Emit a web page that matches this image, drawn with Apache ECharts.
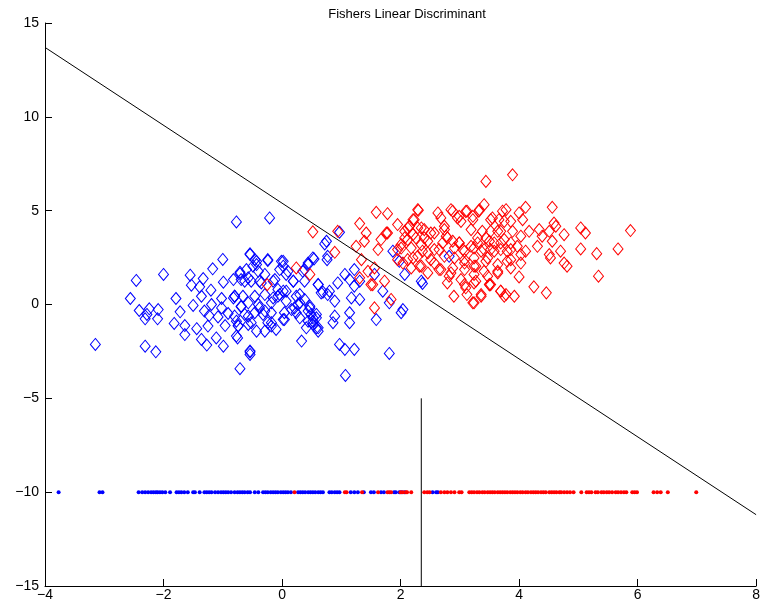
<!DOCTYPE html>
<html>
<head>
<meta charset="utf-8">
<title>Fishers Linear Discriminant</title>
<script src="https://cdn.jsdelivr.net/npm/echarts@6/dist/echarts.min.js"></script>
<style>
  html, body { margin: 0; padding: 0; background: #fff; }
  #chart { width: 763px; height: 612px; }
</style>
</head>
<body>
<div id="chart"></div>
<script>
// Class 1 samples (blue)
const blueX = [-0.77,-0.54,-1.0,-1.17,-2.0,-2.46,-1.55,-1.33,-1.53,-0.99,-0.71,-1.39,-1.2,-2.56,-1.79,-1.02,-1.36,-0.82,-1.19,-1.5,-2.09,-2.41,-2.24,-2.28,-2.31,-2.1,-1.72,-1.02,-0.69,-1.31,-1.23,-1.08,-0.91,-1.82,-1.64,-1.44,-1.25,-1.64,-0.96,-0.74,-0.57,-1.11,-1.36,-1.27,-0.99,-0.75,-3.15,-2.31,-2.13,-0.54,-0.71,
  -0.21,-0.24,-0.43,-0.49,0.02,-0.71,-0.6,-0.4,-0.29,-0.04,0.54,0.44,0.35,0.75,0.72,0.97,0.77,0.76,-0.82,-0.63,-0.52,-0.35,-0.12,0.07,0.19,0.38,0.61,0.69,0.77,0.94,1.06,1.22,1.31,1.14,-0.8,-0.66,-0.46,-0.29,-0.07,0.24,0.02,-0.69,-0.38,-0.18,0.07,0.3,0.47,0.58,0.52,0.44,0.89,1.17,1.31,1.81,2.01,1.87,1.22,-0.8,-0.57,-0.46,-0.32,-0.18,0.04,0.24,-0.24,-0.18,-0.43,-0.74,-0.77,0.02,0.21,0.3,0.41,0.58,0.52,0.61,0.33,0.89,0.86,1.14,1.14,0.97,1.06,1.22,1.81,-0.54,-0.54,1.07,
  1.98,2.07,2.35,2.37,2.82,1.56,1.7,1.59,2.04,
  -0.54,-0.46,-0.43,-0.24,-0.01,0.02,0.52,0.44,0.38,0.1,-0.57,-0.69,-0.38,-0.15,-0.07,-0.04,-0.15,0.07,0.19,0.3,0.38,0.61,0.66,0.8,-0.8,-0.57,-0.4,-0.29,-0.63,-0.77,-0.52,-0.18,0.04,0.16,0.27,0.47,0.49,0.58,0.52,0.61,0.44,-0.29,-0.1];
const blueY = [4.4,2.7,2.4,1.9,1.6,1.28,1.56,1.38,1.03,1.19,1.65,0.94,0.76,0.32,0.32,0.32,0.44,0.35,0,-0.05,-0.27,-0.32,-0.23,-0.53,-0.76,-0.76,-0.39,-0.18,-0.12,-0.35,-0.59,-0.66,-0.48,-1.01,-1.12,-1.29,-1.15,-1.6,-1.12,-1.12,-1.06,-1.78,-1.86,-2.16,-2.22,-1.78,-2.13,-2.22,-2.52,-2.53,-3.42,
  4.61,2.34,2.3,2.04,2.3,1.72,1.86,1.77,1.6,1.86,2.43,2.13,1.77,3.37,3.23,3.85,2.57,2.39,1.33,1.24,1.24,1.15,1.33,1.6,1.24,1.24,1.06,0.66,0.53,1.15,1.6,1.86,1.24,1.33,0.44,0.44,0.44,0.53,0.44,0.44,0.71,-0.09,-0.18,0.09,0.18,0.09,-0.18,-0.53,-0.71,-0.35,0.18,0.35,0.27,0.09,-0.44,2.84,0.98,-0.62,-0.62,-0.44,-0.53,-0.44,-0.44,-0.44,-0.97,-1.15,-1.42,-1.15,-1.68,-0.8,-0.18,-0.71,-1.24,-1.24,-0.89,-1.42,-1.95,-0.62,-0.97,-0.44,-0.97,-2.13,-2.39,-2.39,-2.61,-2.48,-2.66,-3.78,
  2.3,1.6,1.24,1.12,2.57,1.6,0.71,-0.8,-0.27,
  2.66,2.39,2.13,2.39,2.3,2.04,2.48,2.21,1.86,1.77,1.42,1.33,1.24,1.24,0.8,0.53,0.35,0.71,1.24,0.53,0.27,1.06,0.62,0.71,0.44,0.09,0,-0.35,-0.53,-0.89,-0.97,-0.97,-0.8,-0.27,0,-0.09,-0.53,-0.71,-1.06,-1.24,-0.89,-1.42,-1.33];

// Class 2 samples (red)
const redX = [0.24,0.47,0.52,0.94,0.89,-0.25,1.56,1.73,1.84,1.56,1.45,1.34,1.25,1.39,1.31,1.59,1.78,1.95,1.76,1.67,1.53,1.31,1.5,
  3.44,2.3,2.63,2.88,3.12,3.41,3.32,3.72,3.55,3.22,2.99,3.02,2.74,2.57,2.23,2.15,2.29,2.4,2.07,2.21,2.4,2.35,2.12,2.01,1.95,2.18,1.42,1.78,1.62,1.95,2.12,2.29,2.46,2.57,2.71,2.77,2.88,2.99,2.91,3.08,3.19,3.3,3.44,3.58,3.69,3.52,3.36,3.47,3.24,3.08,2.91,2.74,2.57,2.35,2.18,2.04,2.46,2.68,2.88,3.08,3.27,3.41,3.64,2.82,3.02,3.24,3.47,3.1,3.24,3.52,2.9,3.12,3.24,3.36,3.69,3.75,
  3.89,4.0,4.11,4.56,3.66,3.86,4.06,4.59,4.62,4.34,4.17,3.89,4.03,4.39,4.51,4.76,5.04,5.12,5.88,3.69,3.52,3.69,3.86,3.97,4.11,3.8,4.31,4.56,4.7,4.53,4.51,4.76,4.81,5.04,5.31,5.67,5.34,4.03,3.86,4.03,3.64,3.86,4.0,3.5,3.69,3.78,3.92,4.25,4.46,3.36,3.22,
  2.29,2.85,3.1,3.33,3.78,2.21,2.68,2.96,3.22,3.52,3.75,2.12,2.35,2.51,2.74,3.19,3.38,3.64,2.07,2.26,2.46,2.79,2.99,3.3,3.5,3.75,2.01,2.37,2.65,3.05,3.24,3.41,3.58,3.86,2.21,2.51,2.65,2.32,2.85,3.08,3.24,3.44,3.64,3.8,2.79,3.27,3.5,3.08];
const redY = [1.95,1.6,3.87,3.9,2.78,1.06,-0.18,1.24,0.27,1.95,1.77,2.39,3.1,3.37,4.31,4.91,4.84,4.26,3.81,3.46,1.06,1.42,1.06,
  6.56,5.02,4.88,4.97,4.97,5.32,4.97,4.97,4.61,4.52,4.7,4.43,4.17,3.81,4.52,4.17,4.08,3.99,3.9,3.72,3.55,3.19,3.46,3.19,2.93,3.01,3.81,3.81,2.93,2.39,2.39,2.57,2.75,2.93,3.28,3.64,3.37,3.28,3.01,2.84,3.1,3.28,3.55,3.28,2.93,2.93,2.84,2.48,2.48,2.39,2.48,2.57,2.21,2.04,1.95,2.21,1.68,1.86,1.95,1.86,2.04,1.77,1.68,1.51,1.33,1.6,1.51,0.89,1.15,1.06,0.44,0.53,0.09,0.44,0.71,0.44,
  6.91,4.88,5.18,5.18,4.52,4.43,4.52,4.34,4.17,3.99,3.9,3.9,3.64,3.64,3.9,3.72,4.08,3.81,3.94,3.9,3.9,3.28,3.28,3.1,2.84,2.84,3.1,3.37,2.84,2.48,2.66,2.21,2.04,2.96,2.71,2.96,1.51,2.66,2.39,2.21,1.77,1.95,1.47,1.06,0.71,0.53,0.44,0.94,0.62,0.53,0.09,
  5.05,5.05,4.96,5.05,5.05,4.52,4.61,4.61,4.7,4.52,4.43,4.08,4.08,3.81,3.99,3.99,3.9,3.9,3.55,3.55,3.37,3.55,3.28,3.55,3.37,3.46,3.01,2.84,2.93,2.93,3.01,2.93,2.84,2.93,2.48,2.39,1.86,2.04,1.68,2.21,2.04,2.3,2.13,2.3,1.15,1.24,1.06,1.06];

// Samples projected onto the discriminant direction
const blueProj = [-3.77,-3.08,-3.03,-2.42,-2.36,-2.31,-2.26,-2.21,-2.17,-2.13,-2.10,-2.06,-2.02,-1.97,-1.89,-1.78,-1.74,-1.70,-1.65,-1.59,-1.50,-1.47,-1.39,-1.31,-1.27,-1.23,-1.19,-1.13,-1.08,-1.03,-0.99,-0.95,-0.91,-0.86,-0.80,-0.75,-0.71,-0.67,-0.63,-0.58,-0.54,-0.46,-0.40,-0.32,-0.28,-0.24,-0.19,-0.15,-0.11,-0.07,-0.02,0.02,0.06,0.10,0.15,0.27,0.31,0.35,0.39,0.44,0.48,0.52,0.56,0.61,0.65,0.69,0.80,0.84,0.89,0.93,0.97,1.16,1.22,1.28,1.38,1.50,1.55,1.67,1.72,1.89,1.92,1.98,2.02,2.07,2.54,2.60,2.63];
const redProj = [0.21,1.06,1.09,1.35,1.62,1.78,1.81,1.84,2.00,2.04,2.09,2.11,2.18,2.40,2.45,2.49,2.68,2.74,2.79,2.85,2.91,2.99,3.03,3.16,3.20,3.24,3.29,3.33,3.38,3.42,3.47,3.51,3.55,3.59,3.64,3.68,3.72,3.76,3.80,3.85,3.89,3.93,3.97,4.02,4.06,4.11,4.15,4.20,4.24,4.28,4.32,4.37,4.41,4.45,4.51,4.55,4.59,4.63,4.68,4.71,4.76,4.81,4.86,4.92,5.05,5.14,5.18,5.22,5.29,5.33,5.39,5.43,5.48,5.52,5.57,5.63,5.67,5.72,5.77,5.81,5.91,5.95,5.99,6.27,6.33,6.39,6.51,6.99];
const projLevel = -10;

// Decision boundary end points and the threshold on the projection
const boundaryX = [-4, 8];
const boundaryY = [13.7, -11.2];
const thresholdX = 2.35;
const thresholdY = [-5, -15];

// Axis ranges and ticks
const xTicks = [-4, -2, 0, 2, 4, 6, 8];
const yTicks = [-15, -10, -5, 0, 5, 10, 15];

const pairs = (xs, ys) => xs.map((x, i) => [x, ys[i]]);
const atLevel = (xs) => xs.map(x => [x, projLevel]);
const minusFmt = v => String(v).replace('-', '\u2212');

const FONT = '"Liberation Sans", Arial, Helvetica, sans-serif';

const diamond = (color) => ({
  type: 'scatter',
  symbol: 'diamond',
  symbolSize: [10, 12],
  itemStyle: { color: 'rgba(0,0,0,0)', borderColor: color, borderWidth: 1, opacity: 1 },
  emphasis: { disabled: true },
  z: 2
});
const dots = (color) => ({
  type: 'scatter',
  symbol: 'circle',
  symbolSize: 4,
  itemStyle: { color: color, opacity: 1 },
  emphasis: { disabled: true },
  z: 3
});

const chart = echarts.init(document.getElementById('chart'), null, { renderer: 'canvas' });
chart.setOption({
  animation: false,
  backgroundColor: '#ffffff',
  title: {
    text: 'Fishers Linear Discriminant',
    left: 402,
    top: 3,
    textAlign: 'center',
    textStyle: { fontFamily: FONT, fontSize: 13, fontWeight: 'normal', color: '#000' }
  },
  grid: { left: 45, right: 5, top: 23, bottom: 26, containLabel: false },
  xAxis: {
    type: 'value',
    min: xTicks[0], max: xTicks[xTicks.length - 1], interval: 2,
    axisLine: { show: true, onZero: false, lineStyle: { color: '#000', width: 1 } },
    axisTick: { show: true, inside: true, length: 7, lineStyle: { color: '#000' } },
    axisLabel: { color: '#000', fontFamily: FONT, fontSize: 14, margin: 2, formatter: minusFmt, showMinLabel: true, showMaxLabel: true },
    splitLine: { show: false }
  },
  yAxis: {
    type: 'value',
    min: yTicks[0], max: yTicks[yTicks.length - 1], interval: 5,
    axisLine: { show: true, onZero: false, lineStyle: { color: '#000', width: 1 } },
    axisTick: { show: true, inside: true, length: 7, lineStyle: { color: '#000' } },
    axisLabel: { color: '#000', fontFamily: FONT, fontSize: 14, margin: 6, formatter: minusFmt, showMinLabel: true, showMaxLabel: true },
    splitLine: { show: false }
  },
  series: [
    Object.assign(diamond('#0000ff'), { name: 'class 1', data: pairs(blueX, blueY) }),
    Object.assign(diamond('#ff0000'), { name: 'class 2', data: pairs(redX, redY) }),
    Object.assign(dots('#0000ff'), { name: 'class 1 projection', data: atLevel(blueProj) }),
    Object.assign(dots('#ff0000'), { name: 'class 2 projection', data: atLevel(redProj) }),
    {
      name: 'boundary', type: 'line', showSymbol: false, symbol: 'none',
      data: pairs(boundaryX, boundaryY),
      lineStyle: { color: '#000', width: 1 }, z: 4, silent: true
    },
    {
      name: 'threshold', type: 'line', showSymbol: false, symbol: 'none',
      data: thresholdY.map(y => [thresholdX, y]),
      lineStyle: { color: '#000', width: 1 }, z: 4, silent: true
    }
  ]
});
</script>
</body>
</html>
